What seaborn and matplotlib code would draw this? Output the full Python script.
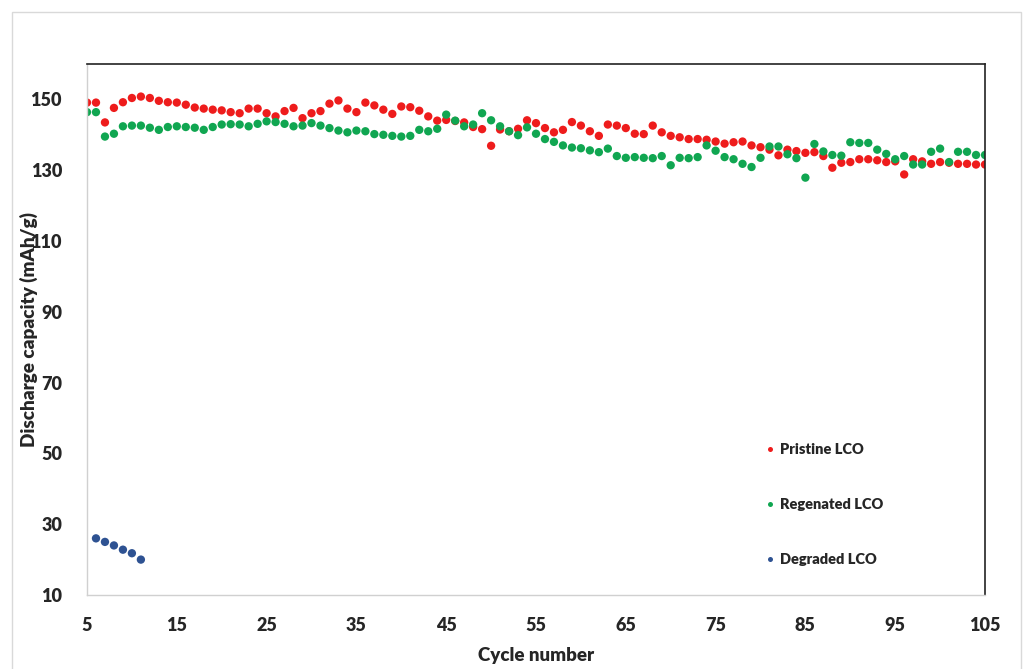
import numpy as np
import pandas as pd
import matplotlib
matplotlib.use("Agg")
import matplotlib.pyplot as plt
import seaborn as sns
from matplotlib.patches import Rectangle

cycles = list(range(5, 106))
pristine = [149.1, 149.1, 143.5, 147.6, 149.2, 150.4, 150.8, 150.4, 149.6, 149.2,
            149.1, 148.5, 147.7, 147.4, 147.1, 146.9, 146.4, 146.1, 147.4, 147.4,
            146.1, 145.2, 146.7, 147.6, 144.7, 146.1, 146.7, 148.8, 149.7, 147.4,
            146.4, 149.1, 148.3, 147.1, 145.9, 148.0, 147.8, 146.8, 145.2, 144.0,
            144.2, 143.9, 143.5, 142.2, 141.6, 136.9, 141.5, 141.0, 141.7, 144.1,
            143.3, 141.9, 140.7, 141.4, 143.6, 142.6, 141.0, 139.7, 142.9, 142.6,
            141.9, 140.3, 140.2, 142.6, 140.7, 139.7, 139.3, 138.8, 138.8, 138.6,
            138.1, 137.5, 137.9, 138.1, 137.0, 136.5, 135.8, 134.2, 135.8, 135.4,
            134.9, 135.1, 134.0, 130.7, 132.1, 132.3, 133.1, 133.1, 132.8, 132.3,
            132.5, 128.8, 133.1, 132.5, 131.8, 132.3, 132.1, 131.8, 131.8, 131.6,
            131.6]
regenerated = [146.4, 146.4, 139.5, 140.3, 142.4, 142.6, 142.6, 142.0, 141.4, 142.2,
               142.4, 142.2, 142.0, 141.4, 142.2, 142.9, 143.0, 142.9, 142.4, 143.1,
               143.8, 143.6, 143.1, 142.4, 142.6, 143.3, 142.6, 141.9, 141.2, 140.7,
               141.2, 141.0, 140.2, 140.0, 139.7, 139.5, 139.7, 141.4, 141.0, 141.7,
               145.7, 144.0, 142.4, 142.9, 146.1, 144.1, 142.4, 141.0, 139.9, 142.1,
               140.3, 138.8, 138.0, 137.0, 136.4, 136.2, 135.6, 135.1, 136.1, 134.0,
               133.5, 133.7, 133.5, 133.4, 134.0, 131.4, 133.5, 133.4, 133.7, 137.0,
               135.5, 133.7, 133.1, 131.8, 130.9, 133.5, 136.7, 136.7, 134.5, 133.4,
               127.9, 137.4, 135.3, 134.3, 134.1, 137.9, 137.7, 137.7, 135.8, 134.6,
               133.1, 134.0, 131.6, 131.6, 135.2, 136.1, 132.3, 135.2, 135.2, 134.3,
               134.3]
degraded_cycles = [6, 7, 8, 9, 10, 11]
degraded = [26.0, 25.0, 24.0, 22.8, 21.8, 20.0]

series_names = ["Pristine LCO", "Regenated LCO", "Degraded LCO"]
colors = ["#EE1C1C", "#10A651", "#2E5292"]

df = pd.concat([
    pd.DataFrame({"cycle": cycles, "cap": pristine, "series": series_names[0]}),
    pd.DataFrame({"cycle": cycles, "cap": regenerated, "series": series_names[1]}),
    pd.DataFrame({"cycle": degraded_cycles, "cap": degraded, "series": series_names[2]}),
], ignore_index=True)

sns.set_style("white")
plt.rcParams['font.family'] = ['Lato', 'DejaVu Sans']

fig = plt.figure(figsize=(10.23, 6.69), dpi=100)
ax = fig.add_axes([87/1023, 1 - 595/669, (985-87)/1023, (595-64)/669])

# outer light frame
fig.patches.append(Rectangle((12/1023, -0.01), (1021-12)/1023, 1 - 12/669 + 0.01,
                             transform=fig.transFigure, fill=False,
                             edgecolor="#d9d9d9", linewidth=1.0))

sns.scatterplot(data=df, x="cycle", y="cap", hue="series", palette=colors,
                hue_order=series_names, s=36, edgecolor="none", linewidth=0,
                ax=ax, legend=True)

ax.set_xlim(5, 105)
ax.set_ylim(10, 160)
ax.set_xticks(range(5, 106, 10))
ax.set_yticks(range(10, 151, 20))
ax.tick_params(axis="both", length=0, labelsize=13)
for lab in ax.get_xticklabels() + ax.get_yticklabels():
    lab.set_fontweight("heavy")
ax.tick_params(axis="y", pad=18)
ax.tick_params(axis="x", pad=16)

ax.set_xlabel("Cycle number", fontsize=13.5, fontweight="heavy")
ax.set_ylabel("Discharge capacity (mAh/g)", fontsize=13.6, fontweight="heavy")
ax.xaxis.set_label_coords(0.5, -0.098)
ax.yaxis.set_label_coords(-0.0546, 0.5)

for side in ["left", "bottom"]:
    ax.spines[side].set_color("#d0d0d0")
    ax.spines[side].set_linewidth(1.0)
for side in ["top", "right"]:
    ax.spines[side].set_color("#222222")
    ax.spines[side].set_linewidth(1.2)

handles, labels = ax.get_legend_handles_labels()
leg = ax.legend(handles, labels, loc="upper left", bbox_to_anchor=(0.736, 0.311),
                frameon=False, fontsize=10.5, labelspacing=2.88, handletextpad=0.1,
                markerscale=0.6, handlelength=1.2)
for t in leg.get_texts():
    t.set_fontweight("heavy")

fig.savefig("out.png", dpi=100, facecolor="white")
